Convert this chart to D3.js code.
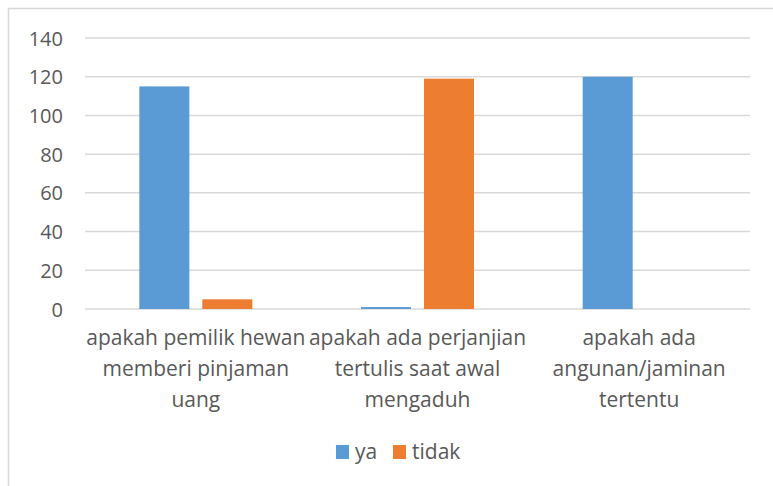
<!DOCTYPE html>
<html>
<head>
<meta charset="utf-8">
<script src="https://cdn.jsdelivr.net/npm/d3@7"></script>
<style>
  body { margin: 0; background: #fff; }
  text { font-family: "Open Sans", sans-serif; fill: #595959; }
</style>
</head>
<body>
<svg id="chart" width="773" height="486"></svg>
<script>
// chart data
var categories = [
  ['apakah pemilik hewan', 'memberi pinjaman', 'uang'],
  ['apakah ada perjanjian', 'tertulis saat awal', 'mengaduh'],
  ['apakah ada', 'angunan/jaminan', 'tertentu']
];
var seriesNames = ['ya', 'tidak'];
var yaValues    = [115, 1, 120];
var tidakValues = [5, 119, 0];
var yTicks      = [0, 20, 40, 60, 80, 100, 120, 140];

var colors = ['#5b9bd5', '#ed7d31'];

var svg = d3.select('#chart');

// outer chart border
svg.append('rect')
   .attr('x', 8.5)
   .attr('y', 8.5)
   .attr('width', 800)
   .attr('height', 500)
   .attr('fill', 'none')
   .attr('stroke', '#d9d9d9')
   .attr('stroke-width', 1.5);

var plotLeft = 85, plotRight = 750, plotTop = 38, plotBottom = 309;

var x = d3.scaleBand()
          .domain(d3.range(categories.length))
          .range([plotLeft, plotRight]);

var inner = d3.scaleBand()
              .domain(seriesNames)
              .range([0, 113])
              .paddingInner(0.206);

var y = d3.scaleLinear()
          .domain([0, 140])
          .range([plotBottom, plotTop]);

// gridlines
svg.append('g')
   .selectAll('line')
   .data(yTicks)
   .enter()
   .append('line')
   .attr('x1', plotLeft)
   .attr('x2', plotRight)
   .attr('y1', function(d) { return y(d); })
   .attr('y2', function(d) { return y(d); })
   .attr('stroke', '#d9d9d9')
   .attr('stroke-width', 1.5);

// y labels
var yAxis = svg.append('g')
   .attr('transform', 'translate(' + (plotLeft - 22) + ',0)')
   .call(d3.axisLeft(y).tickValues(yTicks).tickSize(0).tickPadding(0));
yAxis.select('.domain').remove();
yAxis.selectAll('text')
     .style('font-size', '20px')
     .style('font-family', '"Open Sans", sans-serif')
     .attr('fill', '#595959')
     .attr('dy', '0.35em');

// bars
var groups = svg.append('g')
   .selectAll('g')
   .data(categories)
   .enter()
   .append('g')
   .attr('transform', function(d, i) {
     return 'translate(' + (x(i) + (x.bandwidth() - 113) / 2) + ',0)';
   });

groups.selectAll('rect')
      .data(function(d, i) {
        return [
          { name: 'ya', value: yaValues[i] },
          { name: 'tidak', value: tidakValues[i] }
        ];
      })
      .enter()
      .append('rect')
      .attr('x', function(d) { return inner(d.name); })
      .attr('width', inner.bandwidth())
      .attr('y', function(d) { return y(d.value); })
      .attr('height', function(d) { return y(0) - y(d.value); })
      .attr('fill', function(d, i) { return colors[i]; });

// category labels
svg.append('g')
   .selectAll('text')
   .data(categories)
   .enter()
   .append('text')
   .attr('text-anchor', 'middle')
   .style('font-size', '21px')
   .each(function(lines, i) {
     var t = d3.select(this);
     lines.forEach(function(line, j) {
       t.append('tspan')
        .attr('x', x(i) + x.bandwidth() / 2)
        .attr('y', 345 + j * 31)
        .text(line);
     });
   });

// legend
var legend = svg.append('g');
var legendX = [336, 393];
seriesNames.forEach(function(name, i) {
  legend.append('rect')
        .attr('x', legendX[i])
        .attr('y', 445)
        .attr('width', 13)
        .attr('height', 14)
        .attr('fill', colors[i]);
  legend.append('text')
        .attr('x', legendX[i] + 19)
        .attr('y', 459)
        .style('font-size', '21px')
        .text(name);
});
</script>
</body>
</html>
